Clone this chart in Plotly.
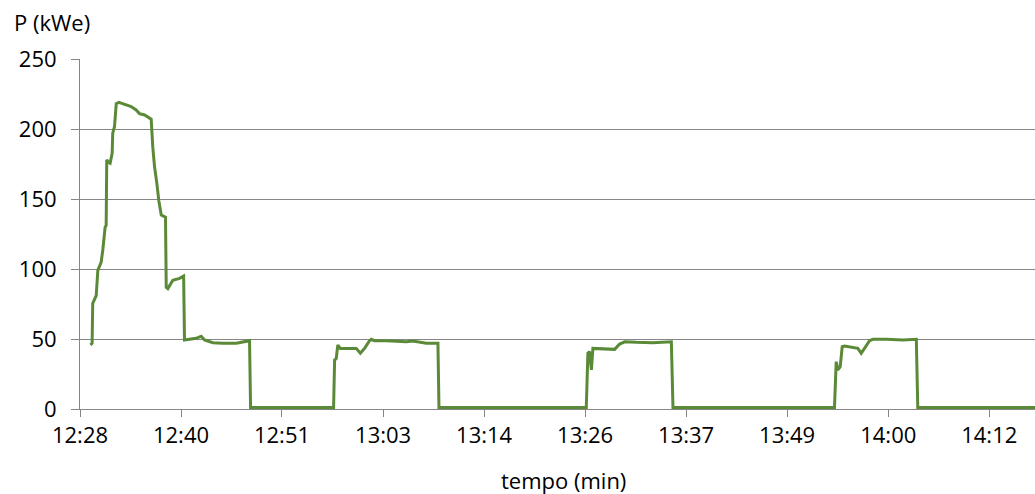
import plotly.graph_objects as go

# --- data ---
times = [
    "12:30:00", "12:30:11", "12:30:15", "12:30:39", "12:30:50", "12:31:13", "12:31:24",
    "12:31:40", "12:31:47", "12:31:51", "12:32:05", "12:32:14", "12:32:28", "12:32:32",
    "12:32:44", "12:32:56", "12:33:14", "12:33:41", "12:34:15", "12:34:38", "12:35:12",
    "12:35:35", "12:36:10", "12:36:44", "12:36:55", "12:37:06", "12:37:18", "12:37:34",
    "12:37:47", "12:38:04", "12:38:33", "12:38:38", "12:38:49", "12:39:23", "12:39:46",
    "12:40:09", "12:40:37", "12:40:43", "12:42:03", "12:42:37", "12:43:00", "12:43:57",
    "12:45:05", "12:46:37", "12:48:08", "12:48:15",
    "12:57:43", "12:57:50", "12:58:01", "12:58:12", "12:58:29", "13:00:18", "13:00:46",
    "13:01:15", "13:01:49", "13:02:01", "13:02:23", "13:03:44", "13:06:01", "13:06:46",
    "13:08:17", "13:09:37", "13:09:44",
    "13:26:32", "13:26:43", "13:26:55", "13:27:02", "13:27:07", "13:27:17", "13:29:46",
    "13:30:20", "13:30:55", "13:32:14", "13:34:08", "13:36:14", "13:36:25",
    "13:54:50", "13:55:02", "13:55:13", "13:55:29", "13:55:43", "13:55:59", "13:57:30",
    "13:57:53", "13:58:50", "13:59:13", "14:00:44", "14:02:38", "14:04:10", "14:04:20",
    "14:17:42",
]
power_kwe = [
    45.7, 47, 75.5, 81, 99, 105, 113.6,
    130, 131, 178, 176, 175.5, 182.6, 197,
    201.6, 218, 219, 218, 217, 216, 213.6,
    211, 210, 207.6, 207, 187, 173, 161,
    149, 138.6, 137, 87, 86, 92, 92.6,
    93.3, 95, 49.3, 50.5, 52, 49.3, 47.4,
    47, 47, 48.8, 1,
    1, 35, 36, 45.7, 43.3, 43.3, 39.8,
    43.3, 48.8, 49.8, 48.8, 48.8, 48, 48.6,
    47, 47, 1,
    1, 39.8, 41, 32.6, 28, 43.3, 42.6,
    46.4, 48, 47.6, 47.4, 48, 1,
    1, 33.8, 28, 30, 44.5, 45, 43.3,
    39.8, 48.8, 49.8, 49.8, 49.3, 49.8, 1,
    1,
]
tick_times = ["12:28:48", "12:40:19", "12:51:50", "13:03:22", "13:14:53",
              "13:26:24", "13:37:55", "13:49:26", "14:00:58", "14:12:29"]
tick_labels = ["12:28", "12:40", "12:51", "13:03", "13:14",
               "13:26", "13:37", "13:49", "14:00", "14:12"]
y_ticks = [0, 50, 100, 150, 200, 250]

DAY = "2000-01-01 "
x_vals = [DAY + t for t in times]

FONT = "Open Sans"
FS = 22
GRID = "#868686"
LINE = "#5A8A37"

W, H = 1035, 494
L, T, B = 80, 59, 85
PH = H - T - B
PW = W - L

fig = go.Figure()
fig.add_trace(go.Scatter(
    x=x_vals, y=power_kwe, mode="lines",
    line=dict(color=LINE, width=3), showlegend=False,
))

fig.update_layout(
    width=W, height=H,
    margin=dict(l=L, r=0, t=T, b=B, pad=0),
    paper_bgcolor="white", plot_bgcolor="white",
    font=dict(family=FONT, size=FS, color="black"),
    xaxis=dict(
        type="date",
        range=[DAY + "12:28:48", DAY + "14:17:42"],
        tickvals=[DAY + t for t in tick_times],
        ticktext=tick_labels,
        showgrid=False, zeroline=False,
        showline=True, linecolor=GRID, linewidth=1,
        ticks="outside", ticklen=7, tickcolor=GRID, tickwidth=1,
        tickfont=dict(family=FONT, size=FS),
    ),
    yaxis=dict(
        range=[0, 250],
        tickvals=y_ticks,
        showgrid=True, gridcolor=GRID, gridwidth=1,
        zeroline=False,
        showline=True, linecolor=GRID, linewidth=1,
        ticks="outside", ticklen=8, tickcolor=GRID, tickwidth=1,
        tickfont=dict(family=FONT, size=FS),
        ticklabelstandoff=10,
    ),
    annotations=[
        dict(text="P (kWe)", xref="paper", yref="paper", x=(12 - L) / PW, y=1 + (T - 22) / PH,
             xanchor="left", yanchor="middle", showarrow=False,
             font=dict(family=FONT, size=FS)),
        dict(text="tempo (min)", xref="paper", yref="paper", x=(563 - L) / PW, y=-(480 - (T + PH)) / PH,
             xanchor="center", yanchor="middle", showarrow=False,
             font=dict(family=FONT, size=FS)),
    ],
)

fig.write_html(
    "out.html",
    config={"displayModeBar": False},
    post_script="document.body.style.margin='0';document.body.style.padding='0';"
                "document.body.style.overflow='hidden';",
)
